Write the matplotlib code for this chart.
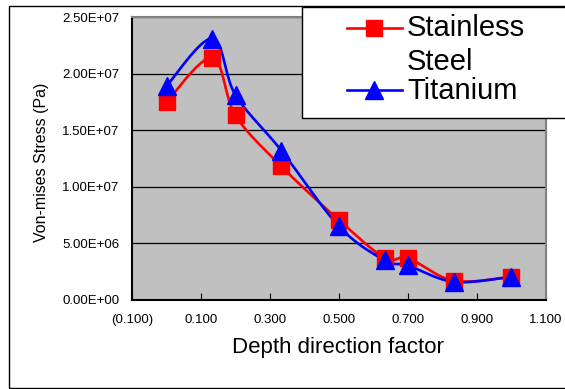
import numpy as np
import matplotlib
matplotlib.use("Agg")
import matplotlib.pyplot as plt
from matplotlib.patches import Rectangle
from matplotlib.lines import Line2D

plt.rcParams['font.family'] = ['Liberation Sans', 'DejaVu Sans']

depth = [0.0, 0.133, 0.2, 0.333, 0.5, 0.633, 0.7, 0.833, 1.0]
steel = [1.75e7, 2.14e7, 1.63e7, 1.18e7, 7.05e6, 3.7e6, 3.7e6, 1.7e6, 2.05e6]
titanium = [1.89e7, 2.31e7, 1.81e7, 1.32e7, 6.5e6, 3.5e6, 3.05e6, 1.6e6, 2.05e6]
xticks = [-0.1, 0.1, 0.3, 0.5, 0.7, 0.9, 1.1]
xlabels = ['(0.100)', '0.100', '0.300', '0.500', '0.700', '0.900', '1.100']
yticks = [0, 5e6, 1e7, 1.5e7, 2e7, 2.5e7]
ylabels = ['0.00E+00', '5.00E+06', '1.00E+07', '1.50E+07', '2.00E+07', '2.50E+07']

W, H = 565, 389


def px(x, y):
    return x / W, 1 - y / H


def smooth(xs, ys, n=20):
    # catmull-rom through the points, done in normalised units
    p = np.column_stack([np.array(xs) / 1.2, np.array(ys) / 2.5e7])
    p = np.vstack([p[0], p, p[-1]])
    out = []
    t = np.linspace(0, 1, n)[:, None]
    for i in range(1, len(p) - 2):
        p0, p1, p2, p3 = p[i - 1], p[i], p[i + 1], p[i + 2]
        seg = 0.5 * ((2 * p1) + (-p0 + p2) * t + (2 * p0 - 5 * p1 + 4 * p2 - p3) * t ** 2
                     + (-p0 + 3 * p1 - 3 * p2 + p3) * t ** 3)
        out.append(seg)
    out = np.vstack(out)
    return out[:, 0] * 1.2, out[:, 1] * 2.5e7


fig = plt.figure(figsize=(W / 100, H / 100), dpi=100)
fig.add_artist(Rectangle(px(9, 388), (W - 9 + 5) / W, 382 / H, transform=fig.transFigure,
                         fill=False, edgecolor='black', lw=1, zorder=0))

ax = fig.add_axes([132 / W, 1 - 300 / H, (546 - 132) / W, (300 - 17) / H])
ax.set_facecolor('#C0C0C0')

sx, sy = smooth(depth, steel)
tx, ty = smooth(depth, titanium)
ax.plot(sx, sy, color='#FF0000', lw=1.9, zorder=3)
ax.plot(depth, steel, 's', color='#FF0000', ms=11.5, zorder=4)
ax.plot(tx, ty, color='#0000FF', lw=1.9, zorder=3)
ax.plot(depth, titanium, '^', color='#0000FF', ms=12.5, zorder=5)

ax.set_xlim(-0.1, 1.1)
ax.set_ylim(0, 2.5e7)
ax.set_xticks(xticks)
ax.set_xticklabels(xlabels, fontsize=9.5)
ax.set_yticks(yticks)
ax.set_yticklabels(ylabels, fontsize=9.5)
ax.tick_params(axis='x', direction='in', length=5, pad=10)
ax.tick_params(axis='y', length=0, pad=9)
ax.yaxis.grid(True, color='black', lw=0.9)
ax.set_axisbelow(True)
for s in ['top', 'right']:
    ax.spines[s].set_color('#808080')
    ax.spines[s].set_linewidth(1.5)
for s in ['left', 'bottom']:
    ax.spines[s].set_linewidth(1.5)

fig.text(*px(338, 348), 'Depth direction factor', fontsize=16, ha='center', va='center')
fig.text(*px(42, 162), 'Von-mises Stress (Pa)', fontsize=11.5, rotation=90,
         ha='center', va='center')

# legend box, laid out by hand so the handle sits on the first line
fig.add_artist(Rectangle(px(302, 118), (W - 302 + 5) / W, 111 / H, transform=fig.transFigure,
                         facecolor='white', edgecolor='black', lw=1, zorder=10))
for yy, col, mk, ms in [(28, '#FF0000', 's', 11.5), (90, '#0000FF', '^', 12.5)]:
    x0, y0 = px(347, yy)
    x1, _ = px(402, yy)
    fig.add_artist(Line2D([x0, x1], [y0, y0], color=col, lw=1.9, transform=fig.transFigure, zorder=11))
    fig.add_artist(Line2D([(x0 + x1) / 2], [y0], marker=mk, color=col, ms=ms,
                          transform=fig.transFigure, zorder=11))
fig.text(*px(407, 28), 'Stainless', fontsize=21, va='center', zorder=12)
fig.text(*px(407, 62), 'Steel', fontsize=21, va='center', zorder=12)
fig.text(*px(407, 91), 'Titanium', fontsize=21, va='center', zorder=12)

fig.savefig('out.png', dpi=100)
